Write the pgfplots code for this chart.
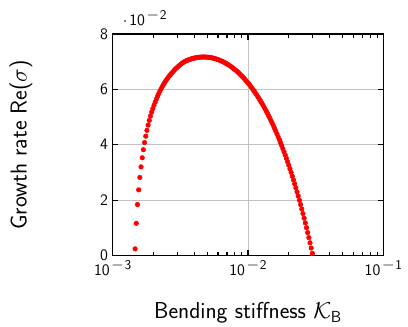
\documentclass[border=0pt]{standalone}
\usepackage{pgfplots}
\usepackage{pgfplotstable}
\pgfplotsset{compat=1.18}
\renewcommand{\familydefault}{\sfdefault}
\newcommand{\tenpow}[1]{10\kern1.2pt\raisebox{4.7pt}{\large$-$\kern0.6pt\normalsize#1}}

\pgfplotstableread{
K s
1.4654e-3 0.00240
1.4951e-3 0.01160
1.5255e-3 0.01840
1.5565e-3 0.02370
1.5881e-3 0.02820
1.6204e-3 0.03200
1.6533e-3 0.03530
1.6869e-3 0.03820
1.7211e-3 0.04080
1.7561e-3 0.04310
1.7918e-3 0.04520
1.8282e-3 0.04710
1.8653e-3 0.04880
1.9032e-3 0.05036
1.9419e-3 0.05178
1.9813e-3 0.05306
2.0215e-3 0.05427
2.0626e-3 0.05542
2.1045e-3 0.05650
2.1473e-3 0.05752
2.1909e-3 0.05848
2.2354e-3 0.05938
2.2808e-3 0.06023
2.3271e-3 0.06103
2.3744e-3 0.06178
2.4226e-3 0.06248
2.4718e-3 0.06313
2.5220e-3 0.06373
2.5733e-3 0.06431
2.6255e-3 0.06486
2.6789e-3 0.06539
2.7333e-3 0.06590
2.7888e-3 0.06638
2.8455e-3 0.06684
2.9033e-3 0.06728
2.9622e-3 0.06770
3.0224e-3 0.06810
3.0838e-3 0.06848
3.1465e-3 0.06884
3.2104e-3 0.06918
3.2756e-3 0.06955
3.3421e-3 0.06983
3.4100e-3 0.07007
3.4793e-3 0.07027
3.5500e-3 0.07045
3.6221e-3 0.07063
3.6957e-3 0.07079
3.7707e-3 0.07093
3.8473e-3 0.07107
3.9255e-3 0.07119
4.0052e-3 0.07130
4.0866e-3 0.07139
4.1696e-3 0.07147
4.2543e-3 0.07154
4.3407e-3 0.07160
4.4289e-3 0.07164
4.5188e-3 0.07167
4.6106e-3 0.07169
4.7043e-3 0.07170
4.7999e-3 0.07169
4.8974e-3 0.07167
4.9968e-3 0.07164
5.0983e-3 0.07159
5.2019e-3 0.07154
5.3076e-3 0.07147
5.4154e-3 0.07138
5.5254e-3 0.07129
5.6376e-3 0.07118
5.7522e-3 0.07106
5.8690e-3 0.07092
5.9882e-3 0.07077
6.1099e-3 0.07061
6.2340e-3 0.07044
6.3606e-3 0.07025
6.4898e-3 0.07005
6.6217e-3 0.06984
6.7562e-3 0.06961
6.8934e-3 0.06937
7.0334e-3 0.06911
7.1763e-3 0.06885
7.3221e-3 0.06856
7.4708e-3 0.06827
7.6226e-3 0.06796
7.7774e-3 0.06763
7.9354e-3 0.06729
8.0966e-3 0.06694
8.2611e-3 0.06657
8.4289e-3 0.06619
8.6001e-3 0.06579
8.7748e-3 0.06538
8.9530e-3 0.06495
9.1349e-3 0.06451
9.3205e-3 0.06405
9.5098e-3 0.06358
9.7030e-3 0.06309
9.9001e-3 0.06258
10.101e-3 0.06206
10.306e-3 0.06152
10.516e-3 0.06096
10.729e-3 0.06039
10.947e-3 0.05980
11.170e-3 0.05919
11.397e-3 0.05856
11.628e-3 0.05792
11.864e-3 0.05726
12.105e-3 0.05658
12.351e-3 0.05588
12.602e-3 0.05516
12.858e-3 0.05442
13.119e-3 0.05367
13.386e-3 0.05289
13.658e-3 0.05209
13.935e-3 0.05127
14.218e-3 0.05043
14.507e-3 0.04957
14.802e-3 0.04869
15.102e-3 0.04779
15.409e-3 0.04686
15.722e-3 0.04591
16.042e-3 0.04493
16.367e-3 0.04394
16.700e-3 0.04292
17.039e-3 0.04188
17.385e-3 0.04081
17.738e-3 0.03971
18.099e-3 0.03859
18.466e-3 0.03745
18.841e-3 0.03628
19.224e-3 0.03507
19.615e-3 0.03385
20.013e-3 0.03259
20.420e-3 0.03131
20.835e-3 0.02999
21.258e-3 0.02865
21.690e-3 0.02728
22.130e-3 0.02588
22.580e-3 0.02444
23.038e-3 0.02298
23.506e-3 0.02148
23.984e-3 0.01995
24.471e-3 0.01839
24.968e-3 0.01679
25.475e-3 0.01515
25.993e-3 0.01348
26.521e-3 0.01178
27.060e-3 0.01003
27.609e-3 0.00825
28.170e-3 0.00644
28.742e-3 0.00458
29.326e-3 0.00268
29.922e-3 0.00074
}\growth

\begin{document}
\begin{tikzpicture}
\begin{axis}[
  name=ax, at={(0,0)}, anchor=south west,
  scale only axis, width=203pt, height=166.1pt,
  xmode=log, xmin=1e-3, xmax=1e-1,
  ymin=0, ymax=0.08,
  xtick={1e-3,1e-2,1e-1},
  xticklabels={\tenpow{3},\tenpow{2},\tenpow{1}},
  ytick={0,0.02,0.04,0.06,0.08},
  scaled y ticks=base 10:2,
  ytick scale label code/.code={$\cdot$\kern1.5pt\tenpow{2}},
  every y tick scale label/.style={at={(rel axis cs:0,1)}, anchor=base west, inner sep=0pt, xshift=7.5pt, yshift=6.4pt, font=\large},
  yticklabel style={/pgf/number format/assume math mode=true},
  tick label style={font=\large},
  grid=major,
  major grid style={line width=0.6pt, black!24},
  axis line style={line width=0.8pt},
  every tick/.style={black, line width=0.8pt},
  xlabel={Bending stiffness $\mathcal{K}_\mathsf{B}$},
  ylabel={Growth rate Re($\sigma$)},
  every axis x label/.style={at={(rel axis cs:0.5,0)}, anchor=base, yshift=-47.6pt, font=\LARGE},
  every axis y label/.style={at={(rel axis cs:0,0.5)}, anchor=base, xshift=-64.5pt, rotate=90, font=\LARGE},
]
\addplot[only marks, mark=*, mark size=1.7pt, color=red, mark options={draw=red, fill=red}] table[x=K, y=s] {\growth};
\end{axis}
\pgfresetboundingbox
\path[use as bounding box] (-84.5pt,-52.9pt) rectangle (221.5pt,191.6pt);
\end{tikzpicture}
\end{document}
